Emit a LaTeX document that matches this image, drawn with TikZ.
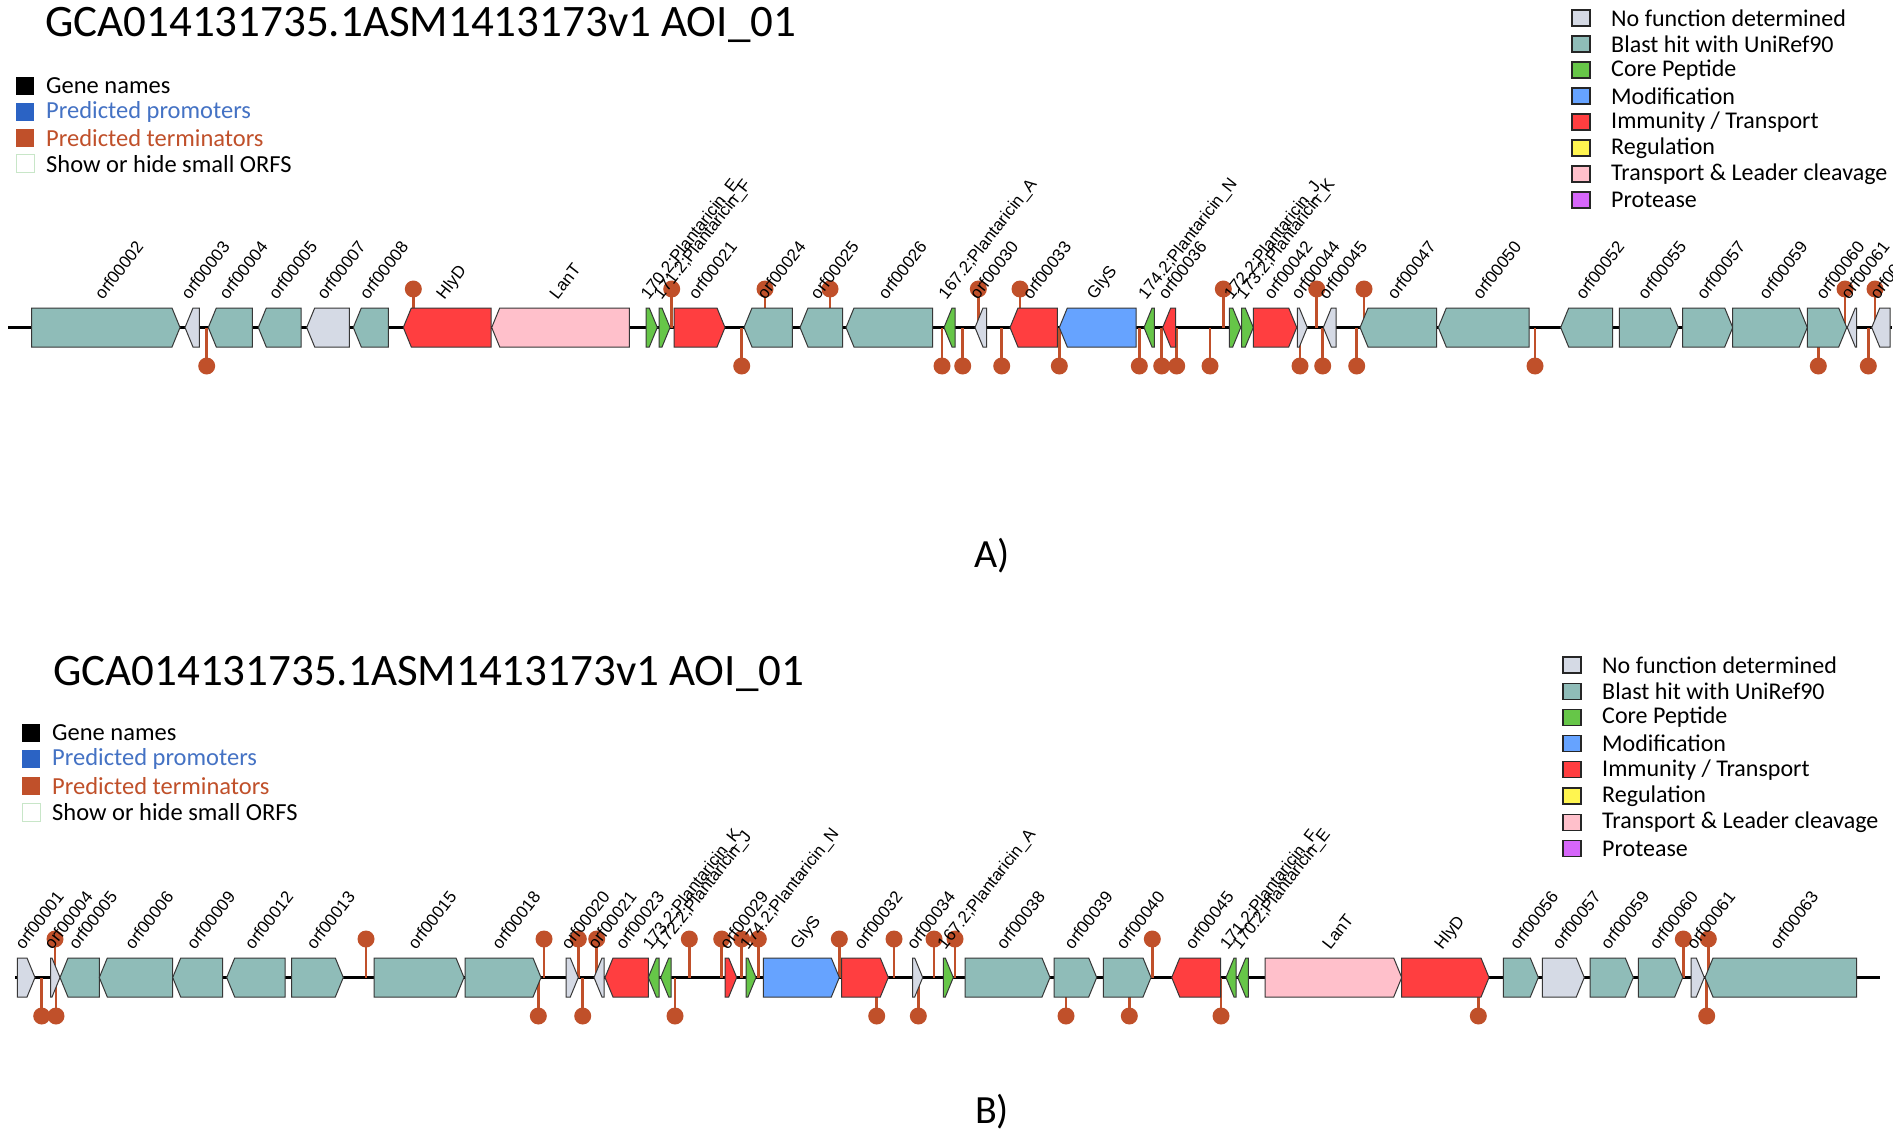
\documentclass[tikz,border=0pt]{standalone}
\usepackage{fontspec}
\setmainfont{Carlito}
\newfontfamily\arialf{Liberation Sans}
\definecolor{gteal}{RGB}{143,188,184}
\definecolor{ggrey}{RGB}{213,218,229}
\definecolor{ggreen}{RGB}{102,198,72}
\definecolor{gblue}{RGB}{102,163,255}
\definecolor{gred}{RGB}{255,62,64}
\definecolor{gyellow}{RGB}{255,245,80}
\definecolor{gpink}{RGB}{255,192,203}
\definecolor{gpurple}{RGB}{214,102,250}
\definecolor{gedge}{RGB}{55,55,55}
\definecolor{term}{RGB}{192,80,42}
\definecolor{promsq}{RGB}{43,99,196}
\definecolor{promtxt}{RGB}{68,114,196}
\definecolor{orfsq}{RGB}{200,230,200}
\tikzset{
  gout/.style={draw=gedge, line width=1pt, line join=miter},
  glabel/.style={anchor=base west, rotate=52, inner sep=0pt, font=\arialf\fontsize{17}{17}\selectfont},
  track/.style={line width=2.4pt, black},
  stem/.style={draw=term, line width=2.8pt},
  legsq/.style={draw=black!85, line width=1.2pt, minimum width=18pt, minimum height=16pt, inner sep=0pt},
  legtxt/.style={anchor=west, inner sep=0pt, font=\fontsize{24}{24}\selectfont},
  lsq/.style={minimum width=18pt, minimum height=18pt, inner sep=0pt},
  ltxt/.style={anchor=west, inner sep=0pt, font=\fontsize{24.5}{24.5}\selectfont},
  ttl/.style={anchor=base west, inner sep=0pt, font=\fontsize{45}{45}\selectfont},
  panel/.style={inner sep=0pt, font=\fontsize{40}{40}\selectfont},
}
\newcommand\drawgenes[3]{%
  \foreach \ga/\gb/\gd/\gc/\gl [count=\gi] in {#3} {
    \pgfmathsetmacro\gh{min(8,\gb-\ga)}
    \if\gd R
      \filldraw[gout, fill=\gc] (\ga,#1-19.5) -- (\gb-\gh,#1-19.5) -- (\gb,#1) -- (\gb-\gh,#1+19.5) -- (\ga,#1+19.5) -- cycle;
    \else
      \filldraw[gout, fill=\gc] (\gb,#1-19.5) -- (\ga+\gh,#1-19.5) -- (\ga,#1) -- (\ga+\gh,#1+19.5) -- (\gb,#1+19.5) -- cycle;
    \fi
    \node[glabel] (lab#2\gi) at ({(\ga+\gb)/2-3},#1-27) {\gl};
  }%
}
\newcommand\drawterms[2]{%
  \foreach \tx/\ts in {#2} {
    \if\ts t
      \draw[stem] (\tx,#1-38.5) -- (\tx,#1);
      \fill[term] (\tx,#1-38.5) circle (8.5pt);
    \else
      \draw[stem] (\tx,#1+38.5) -- (\tx,#1);
      \fill[term] (\tx,#1+38.5) circle (8.5pt);
    \fi
  }%
}
\begin{document}
\begin{tikzpicture}[x=1pt,y=-1pt]
\useasboundingbox (0,0) rectangle (1902,1142);
\fill[white] (0,0) rectangle (1902,1142);
\clip (0,0) rectangle (1892,1142);

% ---------------- Panel A ----------------
\node[ttl] (titleA) at (45,37) {GCA014131735.1ASM1413173v1 AOI\_01};
\node[lsq, fill=black] (lsqA1) at (25,86) {};
\node[ltxt] (ltA1) at (46,86) {Gene names};
\node[lsq, fill=promsq] (lsqA2) at (25,112) {};
\node[ltxt, text=promtxt] (ltA2) at (46,112) {Predicted promoters};
\node[lsq, fill=term] (lsqA3) at (25,138) {};
\node[ltxt, text=term] (ltA3) at (46,138) {Predicted terminators};
\node[lsq, draw=orfsq, line width=1pt] (lsqA4) at (25,164) {};
\node[ltxt] (ltA4) at (46,164) {Show or hide small ORFS};

\foreach \c/\t [count=\i] in {ggrey/{No function determined}, gteal/{Blast hit with UniRef90}, ggreen/{Core Peptide}, gblue/{Modification}, gred/{Immunity / Transport}, gyellow/{Regulation}, gpink/{Transport \& Leader cleavage}, gpurple/{Protease}} {
  \node[legsq, fill=\c] (rsqA\i) at (1581,{18+(\i-1)*26}) {};
  \node[legtxt] (rtA\i) at (1611,{18+(\i-1)*26}) {\t};
}

\draw[track] (8,327.5) -- (1892,327.5);
\drawterms{327.5}{206.7/b, 413.3/t, 671.7/t, 741.7/b, 765/t, 830/t, 942/b, 962.7/b, 978.3/t, 1001.7/b, 1020/t, 1059.3/b, 1139.3/b, 1161.7/b, 1176.7/b, 1210/b, 1223.3/t, 1300/b, 1316.7/t, 1322.7/b, 1356.7/b, 1364/t, 1535/b, 1818.3/b, 1845/t, 1868.3/b, 1875/t}
\drawgenes{327.5}{A}{31.7/180/R/gteal/orf00002, 185/199.3/L/ggrey/orf00003, 208.3/252.3/L/gteal/orf00004, 258.3/301/L/gteal/orf00005, 306.7/349.3/L/ggrey/orf00007, 353.3/388.3/L/gteal/orf00008, 403.3/491/L/gred/HlyD, 491.7/629.3/L/gpink/LanT, 646/657.3/R/ggreen/170.2;Plantaricin\_E, 659/670/R/ggreen/171.2;Plantaricin\_F, 674/725/R/gred/orf00021, 744/792.3/L/gteal/orf00024, 800/842.7/L/gteal/orf00025, 846/932.7/L/gteal/orf00026, 944/955/L/ggreen/167.2;Plantaricin\_A, 975/986.7/L/ggrey/orf00030, 1010/1057.3/L/gred/orf00033, 1059.3/1136/L/gblue/GlyS, 1144/1154.3/L/ggreen/174.2;Plantaricin\_N, 1162.7/1175.7/L/gred/orf00036, 1229.3/1240.7/R/ggreen/172.2;Plantaricin\_J, 1241.7/1253.3/R/ggreen/173.2;Plantaricin\_K, 1253.3/1296.7/R/gred/orf00042, 1297.3/1307.3/R/ggrey/orf00044, 1323.3/1336/L/ggrey/orf00045, 1360/1436.7/L/gteal/orf00047, 1438.3/1529/L/gteal/orf00050, 1560.7/1612.7/L/gteal/orf00052, 1619.3/1678.3/R/gteal/orf00055, 1682.7/1732.7/R/gteal/orf00057, 1732.7/1807.3/R/gteal/orf00059, 1807.3/1846.7/R/gteal/orf00060, 1847.3/1856.7/L/ggrey/orf00061, 1871.7/1890/L/ggrey/orf00062}
\node[panel] (panA) at (992,556) {A)};

% ---------------- Panel B ----------------
\node[ttl] (titleB) at (53,685) {GCA014131735.1ASM1413173v1 AOI\_01};
\node[lsq, fill=black] (lsqB1) at (31,733) {};
\node[ltxt] (ltB1) at (52,733) {Gene names};
\node[lsq, fill=promsq] (lsqB2) at (31,759) {};
\node[ltxt, text=promtxt] (ltB2) at (52,759) {Predicted promoters};
\node[lsq, fill=term] (lsqB3) at (31,786) {};
\node[ltxt, text=term] (ltB3) at (52,786) {Predicted terminators};
\node[lsq, draw=orfsq, line width=1pt] (lsqB4) at (31,812) {};
\node[ltxt] (ltB4) at (52,812) {Show or hide small ORFS};

\foreach \c/\t [count=\i] in {ggrey/{No function determined}, gteal/{Blast hit with UniRef90}, ggreen/{Core Peptide}, gblue/{Modification}, gred/{Immunity / Transport}, gyellow/{Regulation}, gpink/{Transport \& Leader cleavage}, gpurple/{Protease}} {
  \node[legsq, fill=\c] (rsqB\i) at (1572,{665+(\i-1)*26.2}) {};
  \node[legtxt] (rtB\i) at (1602,{665+(\i-1)*26.2}) {\t};
}

\draw[track] (15,977.5) -- (1880,977.5);
\drawterms{977.5}{41.7/b, 55/t, 56/b, 366/t, 538.3/b, 544/t, 578.3/t, 582.7/b, 596.7/t, 675/b, 689.3/t, 721.7/t, 741.7/t, 758.3/t, 839.3/t, 876.7/b, 894/t, 918.3/b, 934/t, 955/t, 1066/b, 1129.3/b, 1152.3/t, 1221/b, 1478.3/b, 1683.3/t, 1708.3/t, 1706.7/b}
\drawgenes{977.5}{B}{17.3/35/R/ggrey/orf00001, 50.7/60/R/ggrey/orf00004, 60/99.3/L/gteal/orf00005, 99.3/172.7/L/gteal/orf00006, 172.7/222.7/L/gteal/orf00009, 226.7/285/L/gteal/orf00012, 291.7/343.3/R/gteal/orf00013, 374/464/R/gteal/orf00015, 465/541/R/gteal/orf00018, 566/578.3/R/ggrey/orf00020, 594/604/L/ggrey/orf00021, 605/648.3/L/gred/orf00023, 648.3/659/L/ggreen/173.2;Plantaricin\_K, 660.7/671/L/ggreen/172.2;Plantaricin\_J, 725/736.7/R/gred/orf00029, 746/756/R/ggreen/174.2;Plantaricin\_N, 763.3/839.3/R/gblue/GlyS, 841.7/888.3/R/gred/orf00032, 912.7/922.7/R/ggrey/orf00034, 943.3/953.3/R/ggreen/167.2;Plantaricin\_A, 965/1050/R/gteal/orf00038, 1054/1096.7/R/gteal/orf00039, 1103.3/1151/R/gteal/orf00040, 1171.7/1220.7/L/gred/orf00045, 1226/1236/L/ggreen/171.2;Plantaricin\_F, 1237.7/1248.3/L/ggreen/170.2;Plantaricin\_E, 1265/1401.7/R/gpink/LanT, 1401.7/1489/R/gred/HlyD, 1503.3/1538.3/R/gteal/orf00056, 1542.3/1584.3/R/ggrey/orf00057, 1590/1633.3/R/gteal/orf00059, 1638.3/1682.7/R/gteal/orf00060, 1691/1704.3/R/ggrey/orf00061, 1705/1856.7/L/gteal/orf00063}
\node[panel] (panB) at (992,1112) {B)};
\end{tikzpicture}
\end{document}
